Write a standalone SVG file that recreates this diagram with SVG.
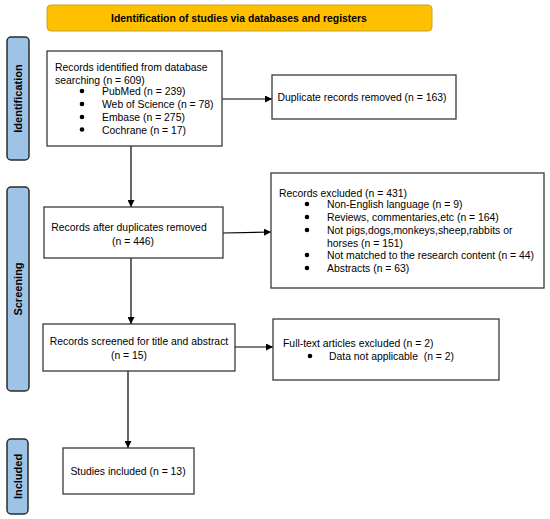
<svg xmlns="http://www.w3.org/2000/svg" width="550" height="519" viewBox="0 0 550 519">
<style>
  text { font-family: "Liberation Sans", Arial, sans-serif; font-size: 10.4px; fill: #000; }
  .b { font-weight: bold; }
  .s { font-weight: bold; font-size: 11px; }
  .box { fill: #fff; stroke: #3a3a3a; stroke-width: 1.3; }
  .side { fill: #9DC3E6; stroke: #2b2b2b; stroke-width: 1.5; }
  .title { fill: #FFC000; stroke: #C9A227; stroke-width: 1; }
  .c { stroke: #000; stroke-width: 1.2; fill: none; }
  .dot { fill: #000; }
</style>
<defs>
  <marker id="ah" viewBox="0 0 8 8" refX="8" refY="4" markerWidth="7" markerHeight="7" markerUnits="userSpaceOnUse" orient="auto">
    <path d="M0,0 L8,4 L0,8 z" fill="#000"/>
  </marker>
</defs>

<g id="title">
  <rect class="title" x="47" y="5" width="385" height="26" rx="4"/>
  <text class="b" x="239" y="22" text-anchor="middle">Identification of studies via databases and registers</text>
</g>

<g id="side-identification">
  <rect class="side" x="7" y="37" width="22" height="123" rx="4"/>
  <text class="s" transform="translate(22,98.5) rotate(-90)" text-anchor="middle">Identification</text>
</g>
<g id="side-screening">
  <rect class="side" x="7" y="187" width="22" height="204" rx="4"/>
  <text class="s" transform="translate(22,289) rotate(-90)" text-anchor="middle">Screening</text>
</g>
<g id="side-included">
  <rect class="side" x="7" y="439" width="21" height="75" rx="4"/>
  <text class="s" transform="translate(21.5,476.5) rotate(-90)" text-anchor="middle">Included</text>
</g>

<g id="connectors">
  <line class="c" x1="222" y1="99" x2="272" y2="99" marker-end="url(#ah)"/>
  <line class="c" x1="131" y1="146" x2="131" y2="207" marker-end="url(#ah)"/>
  <line class="c" x1="223" y1="233" x2="271" y2="232" marker-end="url(#ah)"/>
  <line class="c" x1="131" y1="258" x2="131" y2="324" marker-end="url(#ah)"/>
  <line class="c" x1="235" y1="347" x2="273" y2="347" marker-end="url(#ah)"/>
  <line class="c" x1="128" y1="371" x2="128" y2="448" marker-end="url(#ah)"/>
</g>

<g id="records-identified">
  <rect class="box" x="47" y="51" width="175" height="95"/>
  <text x="55" y="71">Records identified from database</text>
  <text x="55" y="84">searching (n = 609)</text>
  <circle class="dot" cx="82" cy="91" r="2.3"/>
  <text x="102" y="95">PubMed (n = 239)</text>
  <circle class="dot" cx="82" cy="104" r="2.3"/>
  <text x="102" y="108">Web of Science (n = 78)</text>
  <circle class="dot" cx="82" cy="117" r="2.3"/>
  <text x="102" y="121">Embase (n = 275)</text>
  <circle class="dot" cx="82" cy="129.5" r="2.3"/>
  <text x="102" y="133.5">Cochrane (n = 17)</text>
</g>

<g id="duplicates-removed">
  <rect class="box" x="272" y="75" width="184" height="44"/>
  <text x="362" y="101" text-anchor="middle">Duplicate records removed (n = 163)</text>
</g>

<g id="records-after-duplicates">
  <rect class="box" x="44" y="207" width="179" height="51"/>
  <text x="129" y="231" text-anchor="middle">Records after duplicates removed</text>
  <text x="133" y="245" text-anchor="middle">(n = 446)</text>
</g>

<g id="records-excluded">
  <rect class="box" x="271" y="173" width="273" height="115"/>
  <text x="279" y="197">Records excluded (n = 431)</text>
  <circle class="dot" cx="307" cy="204" r="2.3"/>
  <text x="327" y="208">Non-English language (n = 9)</text>
  <circle class="dot" cx="307" cy="217" r="2.3"/>
  <text x="327" y="221">Reviews, commentaries,etc (n = 164)</text>
  <circle class="dot" cx="307" cy="230" r="2.3"/>
  <text x="327" y="234">Not pigs,dogs,monkeys,sheep,rabbits or</text>
  <text x="327" y="246.5">horses (n = 151)</text>
  <circle class="dot" cx="307" cy="255" r="2.3"/>
  <text x="327" y="259">Not matched to the research content (n = 44)</text>
  <circle class="dot" cx="307" cy="268" r="2.3"/>
  <text x="327" y="272">Abstracts (n = 63)</text>
</g>

<g id="records-screened">
  <rect class="box" x="43" y="324" width="192" height="47"/>
  <text x="139" y="345" text-anchor="middle">Records screened for title and abstract</text>
  <text x="129" y="359" text-anchor="middle">(n = 15)</text>
</g>

<g id="fulltext-excluded">
  <rect class="box" x="273" y="319" width="226" height="61"/>
  <text x="283" y="347">Full-text articles excluded (n = 2)</text>
  <circle class="dot" cx="310" cy="356" r="2.3"/>
  <text x="329" y="360" xml:space="preserve">Data not applicable  (n = 2)</text>
</g>

<g id="studies-included">
  <rect class="box" x="63" y="448" width="131" height="46"/>
  <text x="128" y="475" text-anchor="middle">Studies included (n = 13)</text>
</g>
</svg>
